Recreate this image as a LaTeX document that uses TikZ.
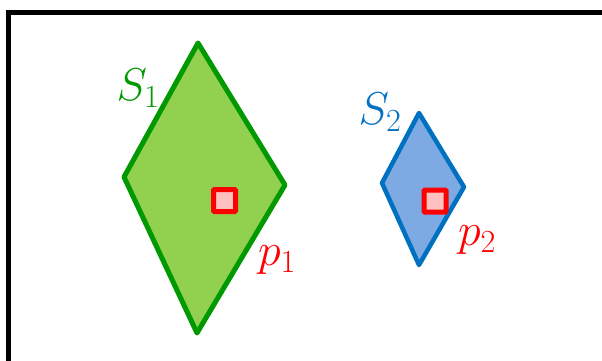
\RequirePackage{fix-cm}
\documentclass[tikz,border=0pt]{standalone}
\usepackage{amsmath}
\definecolor{gfill}{HTML}{92D050}
\definecolor{gline}{HTML}{009900}
\definecolor{bfill}{HTML}{7DAAE2}
\definecolor{bline}{HTML}{0070C0}
\definecolor{rline}{HTML}{FF0000}
\definecolor{rfill}{HTML}{FFC0C0}
\tikzset{
  shapeG/.style={draw=gline,fill=gfill,line width=5pt,line join=round},
  shapeB/.style={draw=bline,fill=bfill,line width=4.5pt,line join=round},
  ptbox/.style={draw=rline,fill=rfill,line width=5pt,minimum size=22pt,inner sep=0pt,rounded corners=1pt},
  lbl/.style={inner sep=0pt,font=\fontsize{46}{54}\selectfont},
}
\begin{document}
\begin{tikzpicture}[x=1pt,y=-1pt]
\useasboundingbox (0,0) rectangle (602,361);
\clip (0,0) rectangle (602,361);
\draw[line width=5pt] (8.5,380) -- (8.5,12.5) -- (620,12.5);
% S1
\coordinate (a1) at (198,43);
\coordinate (b1) at (285,185);
\coordinate (c1) at (197,333);
\coordinate (d1) at (124,177);
\draw[shapeG] (a1) -- (b1) -- (c1) -- (d1) -- cycle;
\node[ptbox] (p1box) at (224.5,200.5) {};
% S2
\coordinate (a2) at (419,113);
\coordinate (b2) at (464,187);
\coordinate (c2) at (419,265);
\coordinate (d2) at (382,183);
\draw[shapeB] (a2) -- (b2) -- (c2) -- (d2) -- cycle;
\node[ptbox] (p2box) at (435,201) {};
% labels
\node[lbl,text=gline] (s1) at (138,88) {$S_1$};
\node[lbl,text=bline] (s2) at (380,112) {$S_2$};
\node[lbl,text=rline] (p1) at (277,260) {$p_1$};
\node[lbl,text=rline] (p2) at (477,240) {$p_2$};
\end{tikzpicture}
\end{document}
